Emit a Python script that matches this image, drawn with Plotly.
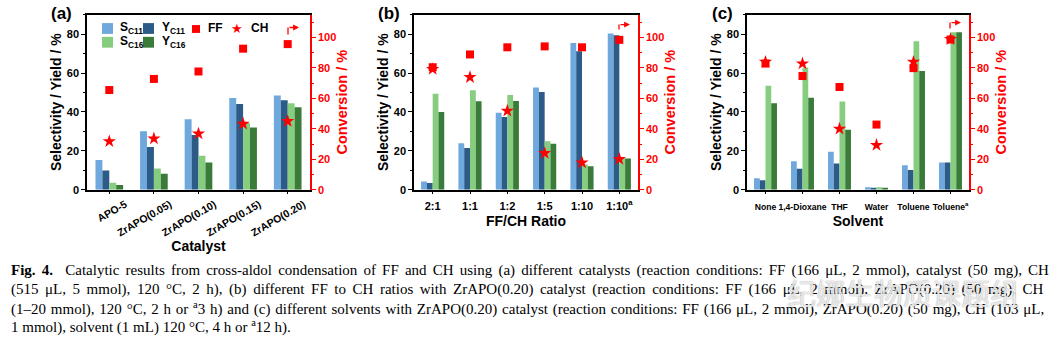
import plotly.graph_objects as go

W, H = 1058, 347

# ---- (a) catalysts ----
catalysts = ["APO-5", "ZrAPO(0.05)", "ZrAPO(0.10)", "ZrAPO(0.15)", "ZrAPO(0.20)"]
a_s_c11 = [15.2, 30.0, 36.2, 47.1, 48.5]
a_y_c11 = [9.9, 21.9, 28.1, 44.1, 46.0]
a_s_c16 = [3.6, 10.9, 17.5, 34.3, 44.4]
a_y_c16 = [2.4, 8.2, 14.0, 32.0, 42.4]
a_ff = [65.5, 72.8, 77.7, 92.7, 95.7]
a_ch = [31.7, 33.6, 36.8, 43.3, 45.0]

# ---- (b) FF/CH ratio ----
ratios = ["2:1", "1:1", "1:2", "1:5", "1:10", "1:10<sup>a</sup>"]
b_s_c11 = [4.2, 23.9, 39.6, 52.5, 75.4, 80.3]
b_y_c11 = [3.4, 21.4, 37.4, 50.2, 71.2, 79.5]
b_s_c16 = [49.3, 51.2, 48.7, 24.9, 13.0, 16.3]
b_y_c16 = [39.9, 45.5, 45.6, 23.6, 12.1, 16.0]
b_ff = [80.5, 88.9, 93.6, 94.2, 93.6, 98.5]
b_ch = [79.2, 73.9, 51.8, 24.0, 17.8, 20.1]

# ---- (c) solvents ----
solvents = ["None", "1,4-Dioxane", "THF", "Water", "Toluene", "Toluene<sup>a</sup>"]
c_s_c11 = [5.9, 14.6, 19.5, 1.2, 12.5, 14.0]
c_y_c11 = [4.9, 10.8, 13.5, 0.7, 10.1, 14.0]
c_s_c16 = [53.5, 62.8, 45.3, 1.2, 76.3, 81.0]
c_y_c16 = [44.4, 47.3, 30.8, 0.7, 61.1, 81.0]
c_ff = [82.9, 74.7, 67.5, 42.8, 79.9, 98.7]
c_ch = [84.0, 82.9, 40.0, 29.3, 84.0, 98.9]

series_names = ["S<sub>C11</sub>", "Y<sub>C11</sub>", "S<sub>C16</sub>", "Y<sub>C16</sub>"]

caption_lines = [
    "<b>Fig. 4.</b>  Catalytic results from cross-aldol condensation of FF and CH using (a) different catalysts (reaction conditions: FF (166 μL, 2 mmol), catalyst (50 mg), CH",
    "(515 μL, 5 mmol), 120 °C, 2 h), (b) different FF to CH ratios with ZrAPO(0.20) catalyst (reaction conditions: FF (166 μL, 2 mmol), ZrAPO(0.20) (50 mg), CH",
    "(1–20 mmol), 120 °C, 2 h or <sup>a</sup>3 h) and (c) different solvents with ZrAPO(0.20) catalyst (reaction conditions: FF (166 μL, 2 mmol), ZrAPO(0.20) (50 mg), CH (103 μL,",
    "1 mmol), solvent (1 mL) 120 °C, 4 h or <sup>a</sup>12 h).",
]
# extra space between words so the first three lines fill the text block
caption_word_spacing = [2.4, 2.8, 1.05, 0]
watermark = "纪娜生物质课题组"

C_S11 = "#6fa8dc"
C_Y11 = "#2b5b86"
C_S16 = "#86cd80"
C_Y16 = "#3a7b3a"
RED = "#ff0000"
SANS = "Liberation Sans, Arial, sans-serif"
SERIF = "Liberation Serif, Times New Roman, serif"


def px(x):
    return x / W


def py(y):
    return 1 - y / H


ydom = [py(193), py(15)]
panels = [
    dict(cats=catalysts, s11=a_s_c11, y11=a_y_c11, s16=a_s_c16, y16=a_y_c16, ff=a_ff, ch=a_ch,
         dom=[px(87), px(310)], title="Catalyst", tick_size=10.5, angle=-30, shift=16, lstand=0,
         tstand=2, label="(a)", lx=49),
    dict(cats=ratios, s11=b_s_c11, y11=b_y_c11, s16=b_s_c16, y16=b_y_c16, ff=b_ff, ch=b_ch,
         dom=[px(414), px(638)], title="FF/CH Ratio", tick_size=11, angle=0, shift=0, lstand=2,
         tstand=6, label="(b)", lx=376),
    dict(cats=solvents, s11=c_s_c11, y11=c_y_c11, s16=c_s_c16, y16=c_y_c16, ff=c_ff, ch=c_ch,
         dom=[px(747), px(969)], title="Solvent", tick_size=8.6, angle=0, shift=0, lstand=5,
         tstand=5, label="(c)", lx=710),
]

fig = go.Figure()
layout = dict(
    width=W, height=H, margin=dict(l=0, r=0, t=0, b=0),
    paper_bgcolor="white", plot_bgcolor="white",
    barmode="group", bargap=0.38, bargroupgap=0, showlegend=False,
    font=dict(family=SANS, color="black"),
)
annotations = []
shapes = []

for i, p in enumerate(panels):
    n = i + 1
    xa = "x" if n == 1 else f"x{n}"
    yl_i, yr_i = 2 * i + 1, 2 * i + 2
    yl = "y" if yl_i == 1 else f"y{yl_i}"
    yr = f"y{yr_i}"
    bars = [
        (series_names[0], p["s11"], C_S11),
        (series_names[1], p["y11"], C_Y11),
        (series_names[2], p["s16"], C_S16),
        (series_names[3], p["y16"], C_Y16),
    ]
    for name, vals, col in bars:
        fig.add_trace(go.Bar(x=p["cats"], y=vals, name=name, marker=dict(color=col, line=dict(width=0)),
                             xaxis=xa, yaxis=yl, offsetgroup=name))
    fig.add_trace(go.Scatter(x=p["cats"], y=p["ff"], name="FF", mode="markers",
                             marker=dict(symbol="square", size=8, color=RED),
                             xaxis=xa, yaxis=yr, cliponaxis=False))
    fig.add_trace(go.Scatter(x=p["cats"], y=p["ch"], name="CH", mode="markers",
                             marker=dict(symbol="star", size=10, color=RED),
                             xaxis=xa, yaxis=yr, cliponaxis=False))

    xkey = "xaxis" if n == 1 else f"xaxis{n}"
    ylkey = "yaxis" if yl_i == 1 else f"yaxis{yl_i}"
    yrkey = f"yaxis{yr_i}"
    layout[xkey] = dict(
        domain=p["dom"], anchor=yl, type="category", range=[-0.5, len(p["cats"]) - 0.5],
        showline=True, linecolor="black", linewidth=1.5, mirror=True,
        ticks="outside", ticklen=3, tickcolor="black", tickangle=p["angle"],
        ticklabelshift=p["shift"], ticklabelstandoff=p["lstand"],
        tickfont=dict(size=p["tick_size"], weight="bold", family=SANS),
        title=dict(text=p["title"], font=dict(size=14, weight="bold"), standoff=p["tstand"]),
        showgrid=False, zeroline=False, fixedrange=True,
    )
    layout[ylkey] = dict(
        domain=ydom, anchor=xa, range=[0, 90], dtick=20, tick0=0,
        showline=True, linecolor="black", linewidth=1.5,
        ticks="outside", ticklen=4, tickcolor="black",
        minor=dict(ticks="outside", ticklen=2, dtick=10, tickcolor="black"),
        tickfont=dict(size=11, weight="bold"),
        title=dict(text="Selectivity / Yield / %", font=dict(size=14, weight="bold"), standoff=2),
        showgrid=False, zeroline=False,
    )
    layout[yrkey] = dict(
        overlaying=yl, side="right", anchor=xa, range=[0, 115], dtick=20, tick0=0,
        showline=True, linecolor=RED, linewidth=1.5,
        ticks="outside", ticklen=4, tickcolor=RED,
        minor=dict(ticks="outside", ticklen=2, dtick=10, tickcolor=RED),
        tickfont=dict(size=11, weight="bold", color=RED),
        title=dict(text="Conversion / %", font=dict(size=14.5, weight="bold", color=RED), standoff=2),
        showgrid=False, zeroline=False,
    )

    # panel letter
    annotations.append(dict(text=f"<b>{p['label']}</b>", x=px(p["lx"]), y=py(14), xref="paper", yref="paper",
                            xanchor="left", yanchor="middle", showarrow=False,
                            font=dict(size=17, family=SANS, color="black")))

# bent arrows pointing to the right-hand conversion axis
arrow_spots = [(288, 35, 28), (619, 30, 25), (950, 29, 23)]
for x0, ylow, ytop in arrow_spots:
    shapes.append(dict(type="line", xref="paper", yref="paper", x0=px(x0), x1=px(x0), y0=py(ylow), y1=py(ytop),
                       line=dict(color=RED, width=1.3)))
    annotations.append(dict(text="", x=px(x0 + 11), y=py(ytop), xref="paper", yref="paper",
                            ax=-11, ay=0, showarrow=True, arrowhead=2, arrowsize=0.9, arrowwidth=1.3,
                            arrowcolor=RED, standoff=0))

# legend of panel (a), laid out in two rows
legend_font = dict(size=12, family=SANS, color="black", weight="bold")
swatches = [
    (series_names[0], C_S11, 102, 29, 118),
    (series_names[1], C_Y11, 143, 29, 160),
    (series_names[2], C_S16, 102, 43, 118),
    (series_names[3], C_Y16, 143, 43, 160),
]
for name, col, sx, sy, tx in swatches:
    shapes.append(dict(type="rect", xref="paper", yref="paper", x0=px(sx), x1=px(sx + 11),
                       y0=py(sy + 5.5), y1=py(sy - 5.5), fillcolor=col, line=dict(width=0)))
    annotations.append(dict(text=name, x=px(tx), y=py(sy), xref="paper", yref="paper", xanchor="left",
                            yanchor="middle", showarrow=False, font=legend_font))
shapes.append(dict(type="rect", xref="paper", yref="paper", x0=px(192), x1=px(200), y0=py(33.5), y1=py(25.5),
                   fillcolor=RED, line=dict(width=0)))
annotations.append(dict(text="FF", x=px(206), y=py(29), xref="paper", yref="paper", xanchor="left",
                        yanchor="middle", showarrow=False, font=legend_font))
annotations.append(dict(text="★", x=px(237), y=py(29), xref="paper", yref="paper", xanchor="center",
                        yanchor="middle", showarrow=False,
                        font=dict(size=13, color=RED, family="DejaVu Sans")))
annotations.append(dict(text="CH", x=px(249), y=py(29), xref="paper", yref="paper", xanchor="left",
                        yanchor="middle", showarrow=False, font=legend_font))

# caption
cap_y = [275, 294.5, 313.5, 332.5]
for line, yy, ws in zip(caption_lines, cap_y, caption_word_spacing):
    annotations.append(dict(text=f'<span style="word-spacing:{ws}px">{line}</span>', x=px(9), y=py(yy),
                            xref="paper", yref="paper", xanchor="left", yanchor="middle", showarrow=False,
                            align="left", font=dict(size=15, family=SERIF, color="black")))

# translucent account mark over the caption
annotations.append(dict(text=watermark, x=px(903), y=py(297), xref="paper", yref="paper", xanchor="center",
                        yanchor="middle", showarrow=False,
                        font=dict(size=29, family="Noto Sans CJK SC", color="rgba(255,255,255,0.8)",
                                  shadow="0px 0px 1.2px rgba(90,90,90,0.9)")))

layout["annotations"] = annotations
layout["shapes"] = shapes

fig.update_layout(**layout)
fig.write_html("out.html")
